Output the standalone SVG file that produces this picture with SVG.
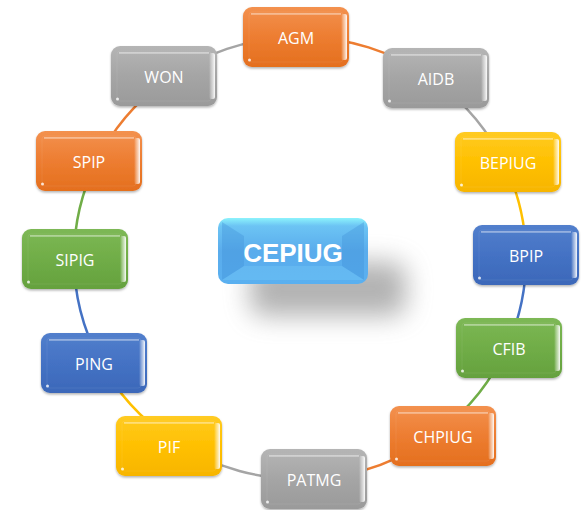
<svg xmlns="http://www.w3.org/2000/svg" width="582" height="510" viewBox="0 0 582 510">
<defs>
<linearGradient id="gO" x1="0" y1="0" x2="0" y2="1"><stop offset="0" stop-color="#F3914F"/><stop offset="0.5" stop-color="#ED7D31"/><stop offset="1" stop-color="#E46F1E"/></linearGradient>
<linearGradient id="gG" x1="0" y1="0" x2="0" y2="1"><stop offset="0" stop-color="#B5B5B5"/><stop offset="0.5" stop-color="#A5A5A5"/><stop offset="1" stop-color="#9A9A9A"/></linearGradient>
<linearGradient id="gY" x1="0" y1="0" x2="0" y2="1"><stop offset="0" stop-color="#FFCB22"/><stop offset="0.5" stop-color="#FFC000"/><stop offset="1" stop-color="#F7B500"/></linearGradient>
<linearGradient id="gB" x1="0" y1="0" x2="0" y2="1"><stop offset="0" stop-color="#527FCC"/><stop offset="0.5" stop-color="#4472C4"/><stop offset="1" stop-color="#3C68B9"/></linearGradient>
<linearGradient id="gN" x1="0" y1="0" x2="0" y2="1"><stop offset="0" stop-color="#7DB856"/><stop offset="0.5" stop-color="#70AD47"/><stop offset="1" stop-color="#65A13E"/></linearGradient>
<linearGradient id="gW" x1="0" y1="0" x2="1" y2="0"><stop offset="0" stop-color="#fff" stop-opacity="0"/><stop offset="1" stop-color="#fff" stop-opacity="0.95"/></linearGradient>
<linearGradient id="gC" x1="0" y1="0" x2="0" y2="1"><stop offset="0" stop-color="#8CF3FC"/><stop offset="0.12" stop-color="#6CC4F4"/><stop offset="0.5" stop-color="#5AACEC"/><stop offset="1" stop-color="#5AB0F0"/></linearGradient>
<filter id="sh" x="-10%" y="-10%" width="120%" height="130%"><feDropShadow dx="0" dy="1.5" stdDeviation="1.2" flood-color="#000" flood-opacity="0.3"/></filter>
<filter id="bl" x="-40%" y="-60%" width="180%" height="220%"><feGaussianBlur stdDeviation="13"/></filter>
<style>
.box{stroke:none;filter:url(#sh)}
.hl{fill:#fff;opacity:0.4}
.rs{fill:url(#gW)}
.dot{fill:#fff;opacity:0.8}
.in{fill:none;stroke:#fff;stroke-opacity:0.07;stroke-width:1}
.t{font-family:"Open Sans","Noto Sans",sans-serif;font-size:16px;fill:#fff;text-anchor:middle}
.c{fill:none;stroke-width:2.5}
</style>
</defs>
<g id="connectors">
<path class="c" stroke="#ED7D31" d="M296.1,37 A226,221 0 0 1 433.8,79.9"/>
<path class="c" stroke="#A5A5A5" d="M433.8,79.9 A226,221 0 0 1 505.8,166.7"/>
<path class="c" stroke="#FFC000" d="M505.8,166.7 A226,221 0 0 1 526,254.1"/>
<path class="c" stroke="#4472C4" d="M526,254.1 A226,221 0 0 1 507.3,346.1"/>
<path class="c" stroke="#70AD47" d="M507.3,346.1 A226,221 0 0 1 439.8,431.7"/>
<path class="c" stroke="#ED7D31" d="M439.8,431.7 A226,221 0 0 1 314.2,478.6"/>
<path class="c" stroke="#A5A5A5" d="M314.2,478.6 A226,221 0 0 1 171.3,439.7"/>
<path class="c" stroke="#FFC000" d="M171.3,439.7 A226,221 0 0 1 99.7,360.4"/>
<path class="c" stroke="#4472C4" d="M99.7,360.4 A226,221 0 0 1 74,258"/>
<path class="c" stroke="#70AD47" d="M74,258 A226,221 0 0 1 96,162.9"/>
<path class="c" stroke="#ED7D31" d="M96,162.9 A226,221 0 0 1 164.9,80.8"/>
<path class="c" stroke="#A5A5A5" d="M164.9,80.8 A226,221 0 0 1 296.1,37"/>
</g>
<g id="center">
<rect x="250" y="262" width="156" height="54" rx="14" fill="#808080" opacity="0.6" filter="url(#bl)"/>
<rect x="218" y="218" width="150" height="66" rx="10" fill="url(#gC)"/>
<polygon points="222,222 244,236 244,266 222,280" fill="#3F8FD8" opacity="0.35"/>
<polygon points="364,222 342,236 342,266 364,280" fill="#3F8FD8" opacity="0.35"/>
<polygon points="222,280 244,266 342,266 364,280" fill="#7FD0FA" opacity="0.3"/>
<text x="293" y="262" font-family="'Liberation Sans',Arial,sans-serif" font-size="26" font-weight="bold" fill="#fff" text-anchor="middle">CEPIUG</text>
</g>
<g id="AGM"><rect class="box" x="243" y="7" width="106" height="60" rx="9" fill="url(#gO)"/><rect class="in" x="249" y="12" width="94" height="50" rx="3"/><rect class="hl" x="251" y="13" width="90" height="1.8"/><rect class="rs" x="341" y="14" width="6" height="46" rx="2"/><circle class="dot" cx="249.5" cy="60" r="1.5"/><text class="t" x="296" y="44">AGM</text></g>
<g id="AIDB"><rect class="box" x="383" y="48" width="106" height="60" rx="9" fill="url(#gG)"/><rect class="in" x="389" y="53" width="94" height="50" rx="3"/><rect class="hl" x="391" y="54" width="90" height="1.8"/><rect class="rs" x="481" y="55" width="6" height="46" rx="2"/><circle class="dot" cx="389.5" cy="101" r="1.5"/><text class="t" x="436" y="85">AIDB</text></g>
<g id="BEPIUG"><rect class="box" x="455" y="132" width="106" height="60" rx="9" fill="url(#gY)"/><rect class="in" x="461" y="137" width="94" height="50" rx="3"/><rect class="hl" x="463" y="138" width="90" height="1.8"/><rect class="rs" x="553" y="139" width="6" height="46" rx="2"/><circle class="dot" cx="461.5" cy="185" r="1.5"/><text class="t" x="508" y="169">BEPIUG</text></g>
<g id="BPIP"><rect class="box" x="473" y="225" width="106" height="60" rx="9" fill="url(#gB)"/><rect class="in" x="479" y="230" width="94" height="50" rx="3"/><rect class="hl" x="481" y="231" width="90" height="1.8"/><rect class="rs" x="571" y="232" width="6" height="46" rx="2"/><circle class="dot" cx="479.5" cy="278" r="1.5"/><text class="t" x="526" y="262">BPIP</text></g>
<g id="CFIB"><rect class="box" x="456" y="318" width="106" height="60" rx="9" fill="url(#gN)"/><rect class="in" x="462" y="323" width="94" height="50" rx="3"/><rect class="hl" x="464" y="324" width="90" height="1.8"/><rect class="rs" x="554" y="325" width="6" height="46" rx="2"/><circle class="dot" cx="462.5" cy="371" r="1.5"/><text class="t" x="509" y="355">CFIB</text></g>
<g id="CHPIUG"><rect class="box" x="390" y="406" width="106" height="60" rx="9" fill="url(#gO)"/><rect class="in" x="396" y="411" width="94" height="50" rx="3"/><rect class="hl" x="398" y="412" width="90" height="1.8"/><rect class="rs" x="488" y="413" width="6" height="46" rx="2"/><circle class="dot" cx="396.5" cy="459" r="1.5"/><text class="t" x="443" y="443">CHPIUG</text></g>
<g id="PATMG"><rect class="box" x="261" y="449" width="106" height="60" rx="9" fill="url(#gG)"/><rect class="in" x="267" y="454" width="94" height="50" rx="3"/><rect class="hl" x="269" y="455" width="90" height="1.8"/><rect class="rs" x="359" y="456" width="6" height="46" rx="2"/><circle class="dot" cx="267.5" cy="502" r="1.5"/><text class="t" x="314" y="486">PATMG</text></g>
<g id="PIF"><rect class="box" x="116" y="416" width="106" height="60" rx="9" fill="url(#gY)"/><rect class="in" x="122" y="421" width="94" height="50" rx="3"/><rect class="hl" x="124" y="422" width="90" height="1.8"/><rect class="rs" x="214" y="423" width="6" height="46" rx="2"/><circle class="dot" cx="122.5" cy="469" r="1.5"/><text class="t" x="169" y="453">PIF</text></g>
<g id="PING"><rect class="box" x="41" y="333" width="106" height="60" rx="9" fill="url(#gB)"/><rect class="in" x="47" y="338" width="94" height="50" rx="3"/><rect class="hl" x="49" y="339" width="90" height="1.8"/><rect class="rs" x="139" y="340" width="6" height="46" rx="2"/><circle class="dot" cx="47.5" cy="386" r="1.5"/><text class="t" x="94" y="370">PING</text></g>
<g id="SIPIG"><rect class="box" x="22" y="229" width="106" height="60" rx="9" fill="url(#gN)"/><rect class="in" x="28" y="234" width="94" height="50" rx="3"/><rect class="hl" x="30" y="235" width="90" height="1.8"/><rect class="rs" x="120" y="236" width="6" height="46" rx="2"/><circle class="dot" cx="28.5" cy="282" r="1.5"/><text class="t" x="75" y="266">SIPIG</text></g>
<g id="SPIP"><rect class="box" x="36" y="131" width="106" height="60" rx="9" fill="url(#gO)"/><rect class="in" x="42" y="136" width="94" height="50" rx="3"/><rect class="hl" x="44" y="137" width="90" height="1.8"/><rect class="rs" x="134" y="138" width="6" height="46" rx="2"/><circle class="dot" cx="42.5" cy="184" r="1.5"/><text class="t" x="89" y="168">SPIP</text></g>
<g id="WON"><rect class="box" x="111" y="46" width="106" height="60" rx="9" fill="url(#gG)"/><rect class="in" x="117" y="51" width="94" height="50" rx="3"/><rect class="hl" x="119" y="52" width="90" height="1.8"/><rect class="rs" x="209" y="53" width="6" height="46" rx="2"/><circle class="dot" cx="117.5" cy="99" r="1.5"/><text class="t" x="164" y="83">WON</text></g>
</svg>
